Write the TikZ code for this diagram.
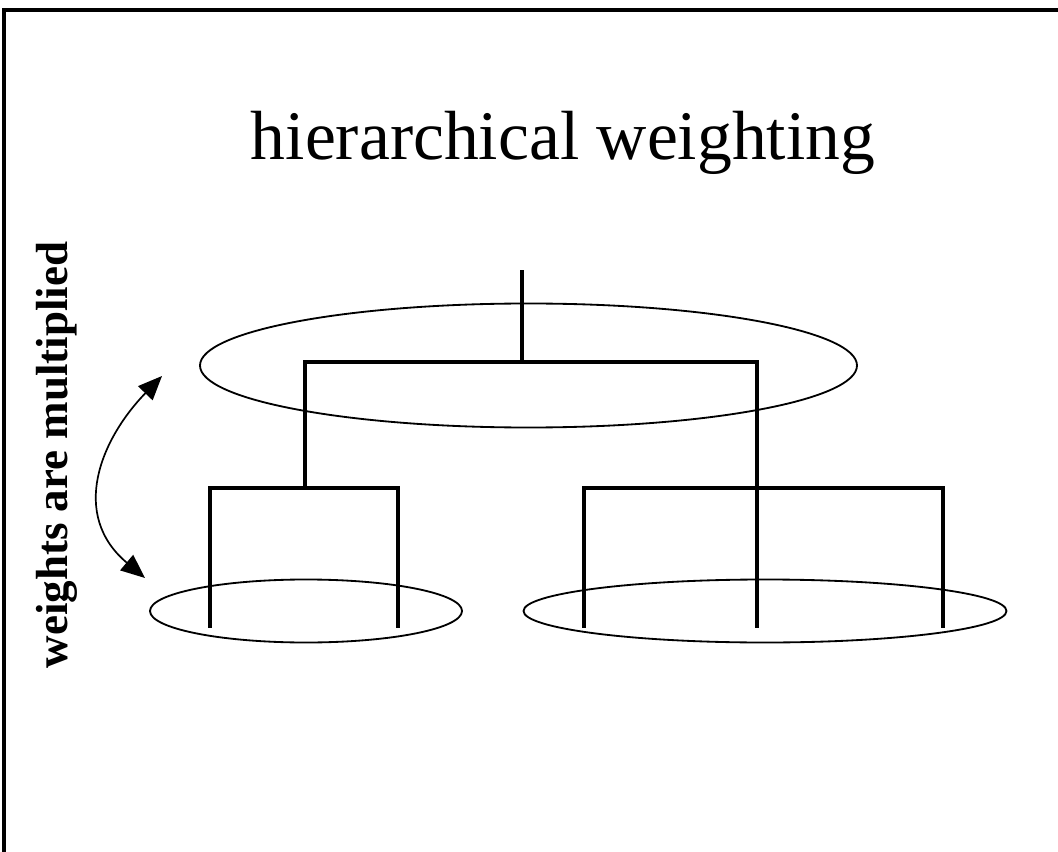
\documentclass[tikz,border=0pt]{standalone}
\usepackage{fontspec}
\setmainfont{Liberation Serif}
\usetikzlibrary{arrows.meta}

\begin{document}
\begin{tikzpicture}[x=0.025cm, y=-0.025cm,
      branch/.style={line width=2.6pt, line cap=rect},
      group/.style={line width=1.3pt},
      weightarrow/.style={{Triangle[length=0.6cm, width=0.5cm]}-{Triangle[length=0.6cm, width=0.5cm]}, line width=1.2pt}]
    \useasboundingbox (0,0) rectangle (1058,852);
    % frame of the slide
    \draw[line width=2.2pt] (4,852) -- (4,10) -- (1058,10);
    \node[anchor=base, font=\fontsize{49.5}{52}\selectfont] (title) at (563,160) {hierarchical weighting};
    \node[anchor=base, rotate=90, font=\bfseries\fontsize{32}{34}\selectfont] (label) at (67,455) {weights are multiplied};
    % tree
    \coordinate (root) at (522,272);
    \coordinate (top) at (522,362);
    \coordinate (l) at (305,362);
    \coordinate (r) at (757,362);
    \coordinate (lb) at (305,488);
    \coordinate (rb) at (757,488);
    \coordinate (l1) at (210,488);
    \coordinate (l2) at (398,488);
    \coordinate (r1) at (584,488);
    \coordinate (r3) at (943,488);
    \draw[branch] (root) -- (top);
    \draw[branch] (lb) -- (l) -- (r) -- (rb);
    \draw[branch] (l1 |- 0,626) -- (l1) -- (l2) -- (l2 |- 0,626);
    \draw[branch] (r1 |- 0,626) -- (r1) -- (r3) -- (r3 |- 0,626);
    \draw[branch] (rb) -- (rb |- 0,626);
    % groups
    \draw[group] (528.5,365.5) ellipse [x radius=328.5, y radius=62];
    \draw[group] (306,611) ellipse [x radius=156, y radius=31.5];
    \draw[group] (765,611) ellipse [x radius=241.5, y radius=31.5];
    % arrow
    \coordinate (upper) at (162,376);
    \coordinate (lower) at (145,578);
    \draw[weightarrow] (upper) .. controls (100,440) and (70,515) .. (lower);
  \end{tikzpicture}
\end{document}
